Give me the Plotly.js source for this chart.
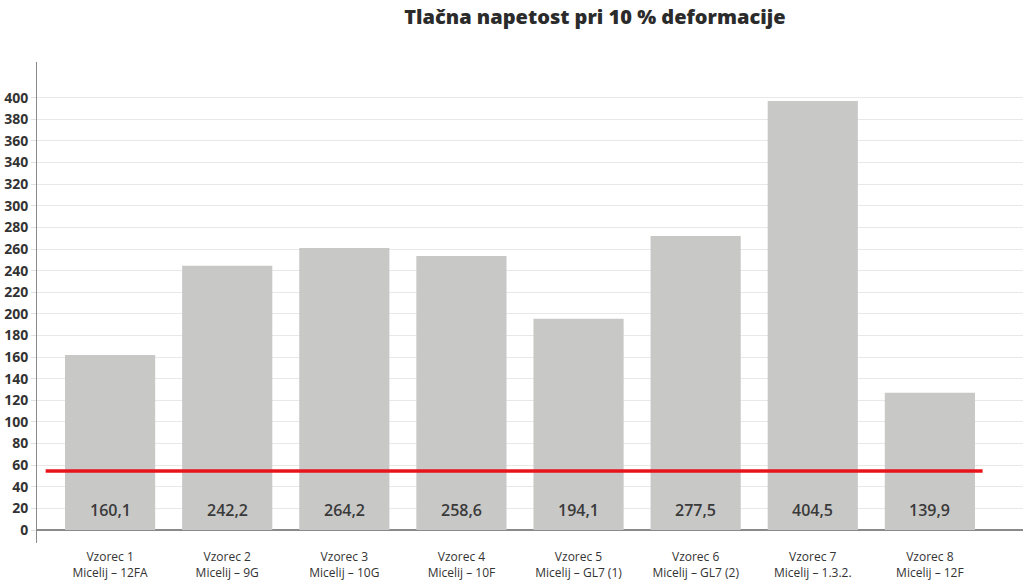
<!DOCTYPE html>
<html>
<head>
<meta charset="utf-8">
<script src="https://cdn.plot.ly/plotly-3.0.1.min.js"></script>
<style>html,body{margin:0;padding:0;background:#fff;}#chart{width:1024px;height:583px;}</style>
</head>
<body>
<div id="chart"></div>
<script>
const categories = ["Vzorec 1<br>Micelij – 12FA","Vzorec 2<br>Micelij – 9G","Vzorec 3<br>Micelij – 10G","Vzorec 4<br>Micelij – 10F","Vzorec 5<br>Micelij – GL7 (1)","Vzorec 6<br>Micelij – GL7 (2)","Vzorec 7<br>Micelij – 1.3.2.","Vzorec 8<br>Micelij – 12F"];
const barHeights = [162, 244.5, 261, 253.5, 195.5, 272, 397, 127];
const valueLabels = ["160,1","242,2","264,2","258,6","194,1","277,5","404,5","139,9"];
const referenceValue = 54.6;
const tickValues = [0,20,40,60,80,100,120,140,160,180,200,220,240,260,280,300,320,340,360,380,400];

const idx = categories.map((c,i)=>i);
const fontFam = "Open Sans, Lato, sans-serif";

const traces = [
  {type:'bar', x:idx, y:barHeights, marker:{color:'#c8c8c7'}, width:0.77, hoverinfo:'skip'},
  {type:'scatter', mode:'lines', x:[-0.55, 7.45], y:[referenceValue, referenceValue], line:{color:'#e8141c', width:3.5}, hoverinfo:'skip'}
];

const annotations = valueLabels.map((t,i)=>({
  x:i, y:18.5, xref:'x', yref:'y', text:t, showarrow:false,
  font:{family:fontFam, size:16, color:'#3a3a3a', weight:600}
}));

const layout = {
  width:1024, height:583,
  margin:{l:37, r:1, t:62, b:40},
  paper_bgcolor:'#fff', plot_bgcolor:'#fff',
  showlegend:false,
  title:{text:'Tlačna napetost pri 10 % deformacije', x:0.581, xanchor:'center', y:0.97, yanchor:'middle', font:{family:fontFam, size:20, color:'#2b2b2b', weight:800}},
  xaxis:{range:[-0.624, 7.795], tickvals:idx, ticktext:categories, showgrid:false, zeroline:false, showline:false, ticks:'', ticklabelstandoff:5, tickfont:{family:fontFam, size:12, color:'#333'}, fixedrange:true},
  yaxis:{range:[-12, 433], tickvals:tickValues, ticktext:tickValues.map(String), showgrid:true, gridcolor:'#e8e8e8', gridwidth:1, zeroline:true, zerolinecolor:'#8a8a8a', zerolinewidth:1.3, showline:true, linecolor:'#8a8a8a', linewidth:1, ticks:'outside', ticklen:5, tickcolor:'#e0e0e0', tickfont:{family:fontFam, size:14, color:'#333', weight:700}, fixedrange:true},
  annotations:annotations
};

Plotly.newPlot('chart', traces, layout, {displayModeBar:false, staticPlot:true});
</script>
</body>
</html>
